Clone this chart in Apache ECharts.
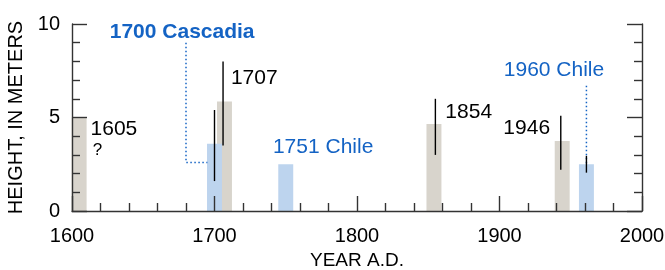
<!DOCTYPE html>
<html>
<head>
<meta charset="utf-8">
<script src="https://cdn.jsdelivr.net/npm/echarts@6/dist/echarts.min.js"></script>
<style>
  html, body { margin: 0; padding: 0; background: #fff; }
  #chart { width: 665px; height: 270px; }
</style>
</head>
<body>
<div id="chart"></div>
<script>
// tsunami heights (m) by year
const grayYears = [1605, 1707, 1854, 1944];
const grayHeights = [5.0, 5.85, 4.65, 3.75];
const blueYears = [1700, 1750, 1961];
const blueHeights = [3.6, 2.5, 2.5];
// error ranges: year, low, high
const errYears = [1700, 1706, 1855, 1943, 1961];
const errLow = [1.6, 3.5, 3.0, 2.2, 2.05];
const errHigh = [5.4, 8.0, 6.0, 5.1, 2.95];
const xTicks = [1600, 1700, 1800, 1900, 2000];
const yTicks = [0, 5, 10];

const FONT = 'Liberation Sans, Arial, Helvetica, sans-serif';
const GRAY = '#d8d4cc';
const LIGHTBLUE = '#bdd4ee';
const BLUE = '#1463c4';
const AXIS = '#333';
const BAR_YEARS = 10.5;

const chart = echarts.init(document.getElementById('chart'));

function barItem(color) {
  return function (params, api) {
    const x = api.value(0), h = api.value(1);
    const p0 = api.coord([x - BAR_YEARS / 2, h]);
    const p1 = api.coord([x + BAR_YEARS / 2, 0]);
    return {
      type: 'rect',
      shape: { x: p0[0], y: p0[1], width: p1[0] - p0[0], height: p1[1] - p0[1] },
      style: { fill: color }
    };
  };
}

function errItem(params, api) {
  const a = api.coord([api.value(0), api.value(1)]);
  const b = api.coord([api.value(0), api.value(2)]);
  return {
    type: 'line',
    shape: { x1: a[0], y1: a[1], x2: b[0], y2: b[1] },
    style: { stroke: '#000', lineWidth: 1.4 }
  };
}

// annotation anchors in data units
function note(text, x, y, opts) {
  return {
    value: [x, y],
    label: Object.assign({
      show: true, formatter: text, position: 'inside', align: 'left',
      verticalAlign: 'middle', fontFamily: FONT, fontSize: 21, color: '#000'
    }, opts || {})
  };
}

const notes = [
  note('1605', 1613, 4.4),
  note('?', 1614.5, 3.25, { fontSize: 17 }),
  note('1707', 1711.5, 7.1),
  note('1751 Chile', 1741, 3.42, { color: BLUE }),
  note('1854', 1862, 5.3),
  note('1946', 1935.5, 4.45, { align: 'right' }),
  note('1960 Chile', 1903, 7.55, { color: BLUE }),
  note('1700 Cascadia', 1626.5, 9.58, { color: BLUE, fontWeight: 'bold' })
];

const axisCommon = {
  type: 'value',
  axisLine: { show: true, lineStyle: { color: AXIS, width: 1.4 } },
  axisTick: { show: true, inside: true, length: 15, lineStyle: { color: AXIS, width: 1.4 } },
  minorTick: { show: true, splitNumber: 5, length: 8, lineStyle: { color: AXIS, width: 1.4 } },
  splitLine: { show: false },
  z: 10
};

chart.setOption({
  animation: false,
  grid: { left: 72, right: 23, top: 24, bottom: 59, containLabel: false, outerBoundsMode: 'none' },
  xAxis: Object.assign({}, axisCommon, {
    min: xTicks[0], max: xTicks[xTicks.length - 1], interval: 100,
    name: 'YEAR A.D.', nameLocation: 'middle', nameGap: 33,
    nameTextStyle: { fontFamily: FONT, fontSize: 19, color: '#000' },
    axisLabel: { margin: 15, fontFamily: FONT, fontSize: 20, color: '#000',
      showMinLabel: true, showMaxLabel: true, formatter: v => String(v) }
  }),
  yAxis: [
    Object.assign({}, axisCommon, {
      min: yTicks[0], max: yTicks[yTicks.length - 1], interval: 5,
      name: 'HEIGHT, IN METERS', nameLocation: 'middle', nameGap: 46,
      nameTextStyle: { fontFamily: FONT, fontSize: 20, color: '#000' },
      axisLabel: { margin: 12, fontFamily: FONT, fontSize: 20, color: '#000', formatter: v => String(v) }
    }),
    Object.assign({}, axisCommon, {
      position: 'right', min: 0, max: 10, interval: 5,
      axisLabel: { show: false }
    })
  ],
  series: [
    { type: 'custom', renderItem: barItem(GRAY), z: 1,
      data: grayYears.map((y, i) => [y, grayHeights[i]]) },
    { type: 'custom', renderItem: barItem(LIGHTBLUE), z: 1,
      data: blueYears.map((y, i) => [y, blueHeights[i]]) },
    { type: 'custom', renderItem: errItem, z: 3,
      data: errYears.map((y, i) => [y, errLow[i], errHigh[i]]) },
    { type: 'line', symbol: 'none', z: 2,
      lineStyle: { color: BLUE, width: 1.5, type: [1.5, 2.5] },
      data: [[1680, 9.0], [1680, 2.6], [1695, 2.6]] },
    { type: 'line', symbol: 'none', z: 2,
      lineStyle: { color: BLUE, width: 1.5, type: [1.5, 2.5] },
      data: [[1961, 6.7], [1961, 2.5]] },
    { type: 'scatter', symbolSize: 0, z: 5, itemStyle: { opacity: 1 }, data: notes }
  ]
});
</script>
</body>
</html>
